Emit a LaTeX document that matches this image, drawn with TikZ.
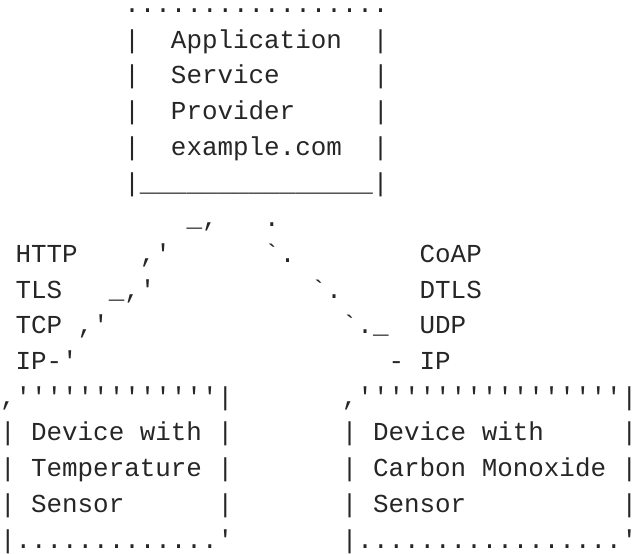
\documentclass[tikz,border=0pt]{standalone}
\usepackage{fontspec}
\setmonofont{Liberation Mono}
\begin{document}
\begin{tikzpicture}[x=1pt,y=1pt,
  asciiline/.style={anchor=base west, inner sep=0pt, outer sep=0pt,
    font=\ttfamily\fontsize{25.9}{30}\selectfont, text=black!85}]
\useasboundingbox (0,0) rectangle (637,-554);
\node[asciiline] (r0)  at (0,-12.5)  {~~~~~~~~.................};
\node[asciiline] (r1)  at (0,-48.2)  {~~~~~~~~|~~Application~~|};
\node[asciiline] (r2)  at (0,-83.9)  {~~~~~~~~|~~Service~~~~~~|};
\node[asciiline] (r3)  at (0,-119.6) {~~~~~~~~|~~Provider~~~~~|};
\node[asciiline] (r4)  at (0,-155.3) {~~~~~~~~|~~example.com~~|};
\node[asciiline] (r5)  at (0,-191.0) {~~~~~~~~|\_\_\_\_\_\_\_\_\_\_\_\_\_\_\_|};
\node[asciiline] (r6)  at (0,-226.7) {~~~~~~~~~~~~\_,~~~.};
\node[asciiline] (r7)  at (0,-262.4) {~HTTP~~~~,'~~~~~~`.~~~~~~~~CoAP};
\node[asciiline] (r8)  at (0,-298.1) {~TLS~~~\_,'~~~~~~~~~~`.~~~~~DTLS};
\node[asciiline] (r9)  at (0,-333.8) {~TCP~,'~~~~~~~~~~~~~~~`.\_~~UDP};
\node[asciiline] (r10) at (0,-369.5) {~IP-'~~~~~~~~~~~~~~~~~~~~-~IP};
\node[asciiline] (r11) at (0,-405.2) {,'''''''''''''|~~~~~~~,'''''''''''''''''|};
\node[asciiline] (r12) at (0,-440.9) {|~Device~with~|~~~~~~~|~Device~with~~~~~|};
\node[asciiline] (r13) at (0,-476.6) {|~Temperature~|~~~~~~~|~Carbon~Monoxide~|};
\node[asciiline] (r14) at (0,-512.3) {|~Sensor~~~~~~|~~~~~~~|~Sensor~~~~~~~~~~|};
\node[asciiline] (r15) at (0,-548.0) {|.............'~~~~~~~|.................'};
\end{tikzpicture}
\end{document}
